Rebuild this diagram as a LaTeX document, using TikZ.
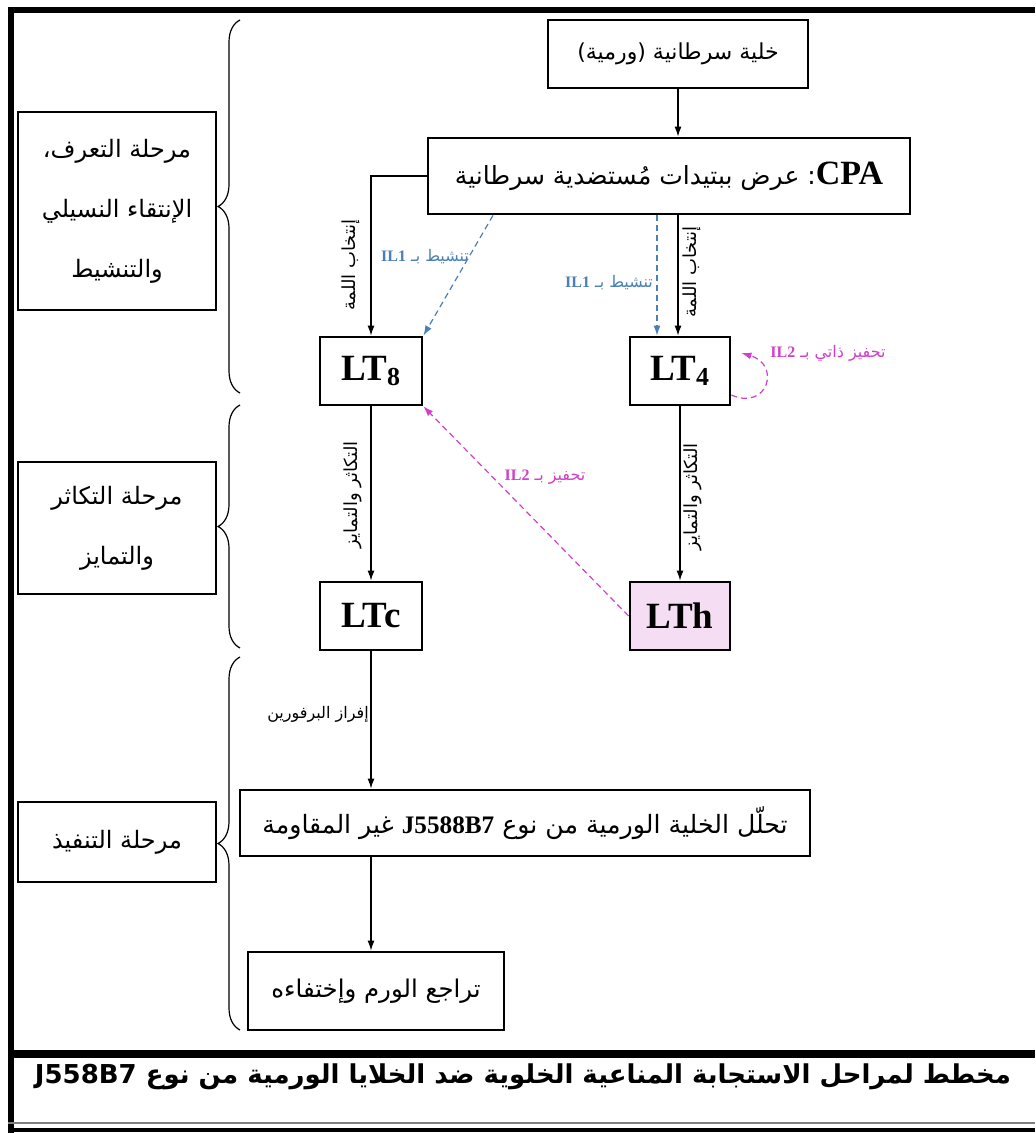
\documentclass[tikz,border=0pt]{standalone}
\usepackage{fontspec}
\setmainfont{Liberation Serif}
\newfontfamily\arabicfont[Script=Arabic]{DejaVu Sans}
\TeXXeTstate=1
\usetikzlibrary{arrows.meta,decorations.pathreplacing}
\definecolor{color0}{HTML}{000000}
\definecolor{bgColor}{HTML}{ffffff}
\definecolor{ilBlue}{HTML}{4A80B4}
\definecolor{ilPink}{HTML}{D23FCB}
\definecolor{lthFill}{HTML}{F5DDF3}
\newcommand{\artxt}[1]{{\arabicfont\beginR #1\endR}}
\newcommand{\latn}[1]{\beginL{\rmfamily\bfseries #1}\endL}
\tikzset{
  cellbox/.style={draw=color0, line width=1.4pt, fill=white, inner sep=2pt, align=center},
  cellbig/.style={font=\fontsize{18.5}{20}\selectfont\bfseries},
  cellar/.style={font=\fontsize{11}{13}\selectfont},
  phasebox/.style={draw=color0, line width=1.2pt, fill=white, minimum width=99pt, align=center, font=\fontsize{12}{30}\selectfont},
  flowarr/.style={draw=color0, line width=0.6pt, -{Latex[length=5pt,width=3.5pt]}},
  ilOneDash/.style={draw=ilBlue, line width=0.6pt, dash pattern=on 3pt off 2pt, -{Latex[length=5pt,width=3.5pt]}},
  ilTwoDash/.style={draw=ilPink, line width=0.6pt, dash pattern=on 3pt off 2pt, -{Latex[length=5pt,width=3.5pt]}},
  steplabel/.style={font=\fontsize{8}{9}\selectfont, inner sep=1pt},
  sidelabel/.style={font=\fontsize{9}{10}\selectfont, inner sep=1pt, rotate=90},
  phasebrace/.style={draw=color0, line width=0.6pt, decorate, decoration={brace, amplitude=11pt}},
}
\begin{document}
\begin{tikzpicture}
\tikzset{x=0.5pt,y=-0.5pt}
\clip (0,0) rectangle (1035,1133);
\fill[bgColor] (0,0) rectangle (1035,1133);
% frame
\draw[color0, line width=3pt] (8,10) -- (1035,10);
\draw[color0, line width=3pt] (11,7) -- (11,1133);
\draw[color0, line width=4pt] (8,1054) -- (1035,1054);
\draw[gray, line width=0.6pt] (8,1123) -- (1035,1123);
\draw[color0, line width=2pt] (8,1130) -- (1035,1130);
% phases
\node[phasebox, minimum height=99pt] (phaseRec) at (117,211) {\artxt{مرحلة التعرف،}\\\artxt{الإنتقاء النسيلي}\\\artxt{والتنشيط}};
\node[phasebox, minimum height=66pt] (phasePro) at (117,528) {\artxt{مرحلة التكاثر}\\\artxt{والتمايز}};
\node[phasebox, minimum height=40pt] (phaseExe) at (117,842) {\artxt{مرحلة التنفيذ}};
\draw[phasebrace] (240,393) -- (240,20);
\draw[phasebrace] (240,648) -- (240,405);
\draw[phasebrace] (240,1030) -- (240,657);
% cells
\node[cellbox, cellar, minimum width=130pt, minimum height=34pt] (tumor) at (678,54) {\artxt{خلية سرطانية (ورمية)}};
\node[cellbox, font=\fontsize{12.5}{14}\selectfont, minimum width=241pt, minimum height=38pt] (cpa) at (669,176) {\artxt{{\rmfamily\bfseries\fontsize{17}{19}\selectfont\beginL CPA\endL}: عرض ببتيدات مُستضدية سرطانية}};
\node[cellbox, cellbig, minimum width=51pt, minimum height=34pt] (lt8) at (371,371) {LT\textsubscript{8}};
\node[cellbox, cellbig, minimum width=50pt, minimum height=34pt] (lt4) at (680,371) {LT\textsubscript{4}};
\node[cellbox, cellbig, minimum width=51pt, minimum height=34pt] (ltc) at (371,616) {LTc};
\node[cellbox, cellbig, fill=lthFill, minimum width=50pt, minimum height=34pt] (lth) at (680,616) {LTh};
\node[cellbox, font=\fontsize{12.6}{14}\selectfont, minimum width=285pt, minimum height=33pt] (lysis) at (525,823) {\artxt{تحلّل الخلية الورمية من نوع \latn{J5588B7} غير المقاومة}};
\node[cellbox, font=\fontsize{12.2}{14}\selectfont, minimum width=128pt, minimum height=39pt] (regress) at (376,991) {\artxt{تراجع الورم وإختفاءه}};
\node[font=\fontsize{13}{15}\selectfont\bfseries] (caption) at (523,1077) {\artxt{مخطط لمراحل الاستجابة المناعية الخلوية ضد الخلايا الورمية من نوع {\arabicfont\bfseries\beginL J558B7\endL}}};
% connectors
\draw[flowarr] (tumor.south) -- (tumor.south |- cpa.north);
\draw[flowarr] (cpa.west) -| (lt8.north);
\draw[flowarr] ([xshift=-1pt]lt4.north |- cpa.south) -- ([xshift=-1pt]lt4.north);
\draw[ilOneDash] ([xshift=-11.5pt]lt4.north |- cpa.south) -- ([xshift=-11.5pt]lt4.north);
\draw[ilOneDash] ([xshift=-88pt]cpa.south) -- (lt8.north east);
\draw[flowarr] (lt8.south) -- (ltc.north);
\draw[flowarr] (lt4.south) -- (lth.north);
\draw[ilTwoDash] (lth.west) -- (lt8.south east);
\draw[ilTwoDash] ([yshift=-12pt]lt4.east) .. controls +(18pt,-8pt) and +(20pt,-6pt) .. ([xshift=5pt,yshift=9pt]lt4.east);
\draw[flowarr] (ltc.south) -- (ltc.south |- lysis.north);
\draw[flowarr] (ltc.south |- lysis.south) -- (ltc.south |- regress.north);
% labels
\node[sidelabel] (selA) at (351,265) {\artxt{إنتخاب اللمة}};
\node[sidelabel] (selB) at (692,272) {\artxt{إنتخاب اللمة}};
\node[steplabel, text=ilBlue] (actA) at (425,257) {\artxt{تنشيط بـ \latn{IL1}}};
\node[steplabel, text=ilBlue] (actB) at (609,283) {\artxt{تنشيط بـ \latn{IL1}}};
\node[sidelabel] (proA) at (353,495) {\artxt{التكاثر والتمايز}};
\node[sidelabel] (proB) at (693,497) {\artxt{التكاثر والتمايز}};
\node[steplabel, text=ilPink] (stimA) at (545,477) {\artxt{تحفيز بـ \latn{IL2}}};
\node[steplabel, text=ilPink] (stimB) at (828,353) {\artxt{تحفيز ذاتي بـ \latn{IL2}}};
\node[steplabel] (perf) at (318,714) {\artxt{إفراز البرفورين}};
\end{tikzpicture}
\end{document}
